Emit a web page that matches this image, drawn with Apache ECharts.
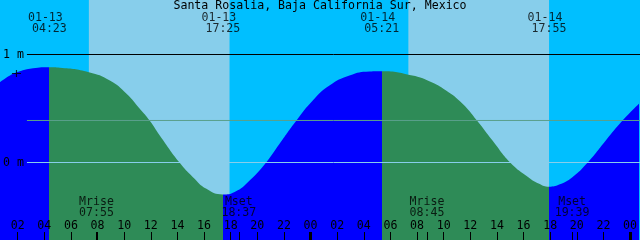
<!DOCTYPE html>
<html><head><meta charset="utf-8">
<script src="https://cdn.jsdelivr.net/npm/echarts@6/dist/echarts.min.js"></script>
<style>html,body{margin:0;padding:0;background:#00BFFF}#c{width:640px;height:240px}</style>
</head><body><div id="c"></div>
<script>
// ---- data (hours counted from 01-13 00:00 local) ----
const chartTitle = 'Santa Rosalia, Baja California Sur, Mexico';
const tideHours = [0.675, 1.425, 2.175, 2.925, 4.383, 5.175, 7.35, 8.925, 10.18, 11.175, 11.925, 12.675, 14.175, 15.17, 16.18, 17.417, 18.3, 19.425, 20.68, 21.675, 22.93, 24.17, 25.425, 26.925, 28.425, 29.35, 31.65, 32.925, 34.18, 35.42, 36.5, 37.67, 38.98, 40.18, 41.175, 41.917, 42.675, 43.67, 44.8, 46.18, 47.42, 48.675];
const tideHeights = [0.744, 0.806, 0.845, 0.868, 0.881, 0.877, 0.836, 0.759, 0.636, 0.497, 0.386, 0.25, -0.003, -0.136, -0.244, -0.296, -0.273, -0.167, 0.003, 0.173, 0.386, 0.574, 0.713, 0.806, 0.843, 0.845, 0.806, 0.753, 0.667, 0.544, 0.389, 0.204, 0.003, -0.120, -0.197, -0.224, -0.204, -0.136, -0.003, 0.204, 0.386, 0.544];
const extremeHours = [4.3833, 17.4167, 29.35, 41.9167];
const extremeKinds = ['high', 'low', 'high', 'low'];
const extremeDates = ['01-13', '01-13', '01-14', '01-14'];
const extremeTimes = ['04:23', '17:25', '05:21', '17:55'];
const moonHours = [7.9167, 18.6167, 32.75, 43.65];
const moonNames = ['Mrise', 'Mset', 'Mrise', 'Mset'];
const moonTimes = ['07:55', '18:37', '08:45', '19:39'];
const sunriseHours = [7.35, 31.35];
const sunsetHours = [17.9167, 41.9167];
const hourTickValues = [2, 4, 6, 8, 10, 12, 14, 16, 18, 20, 22, 24, 26, 28, 30, 32, 34, 36, 38, 40, 42, 44, 46, 48];
const hourTickLabels = ['02', '04', '06', '08', '10', '12', '14', '16', '18', '20', '22', '00', '02', '04', '06', '08', '10', '12', '14', '16', '18', '20', '22', '00'];
const midnightHours = [24, 48];
const datumLevels = [1, 0];
const datumLabels = ['1 m', '0 m'];
const meanLevel = 0.389;
const nowMarkHour = [1.9125];
const nowMarkHeight = [0.824];

// ---- layout / style ----
const X_MIN = 0.675, X_MAX = 48.675;
const Y_MIN = -77.5 / 108, Y_MAX = 162.5 / 108;
const FONT = 'DejaVu Sans Mono';
const FS = 11.6;
const C_NIGHT = '#00BFFF', C_DAY = '#87CEEB', C_RISE = '#0000FF', C_FALL = '#2E8B57';

const pieces = [];
let prev = null;
extremeHours.forEach((h, i) => {
  const p = { lt: h, color: extremeKinds[i] === 'high' ? C_RISE : C_FALL };
  if (prev !== null) p.gte = prev;
  pieces.push(p);
  prev = h;
});
pieces.push({ gte: prev, color: extremeKinds[extremeKinds.length - 1] === 'low' ? C_RISE : C_FALL });

const txt = { fontFamily: FONT, fontSize: FS, color: '#000' };
function labelSeries(hours, texts, row, dx) {
  return {
    type: 'scatter', xAxisIndex: 0, yAxisIndex: 1, z: 10, silent: true,
    symbolSize: 0,
    data: hours.map((h, i) => ({ value: [h, row], name: texts[i] })),
    label: { show: true, position: 'inside', offset: [dx, 0], formatter: p => p.name, ...txt }
  };
}

const chart = echarts.init(document.getElementById('c'), null, { renderer: 'canvas' });
chart.setOption({
  animation: false,
  backgroundColor: C_NIGHT,
  title: { text: chartTitle, left: 'center', top: 0, padding: 0, textStyle: { ...txt, fontWeight: 'normal' } },
  grid: [
    { left: 0, right: 0, top: 0, bottom: 0 },
    { left: 25, right: 0, top: 0, bottom: 0 }
  ],
  xAxis: [
    { type: 'value', gridIndex: 0, min: X_MIN, max: X_MAX, position: 'bottom', z: 20,
      axisLine: { show: false, onZero: false }, splitLine: { show: false },
      axisTick: { show: true, inside: true, length: 8, customValues: hourTickValues.concat(moonHours), lineStyle: { color: '#000', width: 1 } },
      axisLabel: { show: true, inside: true, margin: 8, customValues: hourTickValues,
        formatter: v => hourTickLabels[hourTickValues.indexOf(Math.round(v))], ...txt } },
    { type: 'value', gridIndex: 0, min: X_MIN, max: X_MAX, position: 'bottom', offset: 0, z: 20,
      axisLine: { show: false, onZero: false }, splitLine: { show: false }, axisLabel: { show: false },
      axisTick: { show: true, inside: true, length: 8, customValues: midnightHours, lineStyle: { color: '#000', width: 3 } } },
    { type: 'value', gridIndex: 1, min: 0, max: 1, show: false }
  ],
  yAxis: [
    { type: 'value', gridIndex: 0, min: Y_MIN, max: Y_MAX, show: false },
    { type: 'value', gridIndex: 0, min: 0, max: 240, inverse: true, show: false },
    { type: 'value', gridIndex: 1, min: Y_MIN, max: Y_MAX, z: 20,
      axisLine: { show: false, onZero: false }, axisTick: { show: false }, splitLine: { show: false },
      axisLabel: { show: true, margin: 3, customValues: datumLevels,
        formatter: v => datumLabels[datumLevels.indexOf(Math.round(v))], ...txt } }
  ],
  visualMap: { type: 'piecewise', show: false, dimension: 0, seriesIndex: 1, pieces },
  series: [
    { type: 'custom', xAxisIndex: 0, yAxisIndex: 0, z: 1, silent: true,
      data: sunriseHours.map((h, i) => [h, sunsetHours[i]]),
      encode: { x: [0, 1] },
      renderItem: (params, api) => {
        const p0 = api.coord([api.value(0), Y_MAX]);
        const p1 = api.coord([api.value(1), Y_MIN]);
        return { type: 'rect', shape: { x: p0[0], y: p0[1], width: p1[0] - p0[0], height: p1[1] - p0[1] }, style: { fill: C_DAY } };
      } },
    { type: 'line', xAxisIndex: 0, yAxisIndex: 0, z: 2, silent: true,
      data: tideHours.map((h, i) => [h, tideHeights[i]]),
      smooth: 0.5, showSymbol: false, symbol: 'none',
      lineStyle: { width: 0 }, areaStyle: { opacity: 1, origin: 'start' } },
    { type: 'line', xAxisIndex: 2, yAxisIndex: 2, z: 3, silent: true, symbol: 'none',
      data: [[0, meanLevel], [1, meanLevel]], lineStyle: { color: '#5AA08C', width: 1 } },
    { type: 'line', xAxisIndex: 2, yAxisIndex: 2, z: 3, silent: true, symbol: 'none',
      data: [[0, datumLevels[1]], [1, datumLevels[1]]], lineStyle: { color: C_DAY, width: 1 } },
    { type: 'line', xAxisIndex: 2, yAxisIndex: 2, z: 3, silent: true, symbol: 'none',
      data: [[0, datumLevels[0]], [1, datumLevels[0]]], lineStyle: { color: '#000', width: 1 } },
    { type: 'scatter', xAxisIndex: 0, yAxisIndex: 0, z: 5, silent: true,
      data: nowMarkHour.map((h, i) => [h, nowMarkHeight[i]]),
      symbol: 'path://M0,3.5H9M4.5,0V7', symbolSize: [9, 7],
      itemStyle: { color: 'none', borderColor: '#000', borderWidth: 1 } },
    labelSeries(extremeHours, extremeDates, 17.5, -4),
    labelSeries(extremeHours, extremeTimes, 29, 0),
    labelSeries(moonHours, moonNames, 201.5, 0),
    labelSeries(moonHours, moonTimes, 213, 0)
  ]
});
</script></body></html>
